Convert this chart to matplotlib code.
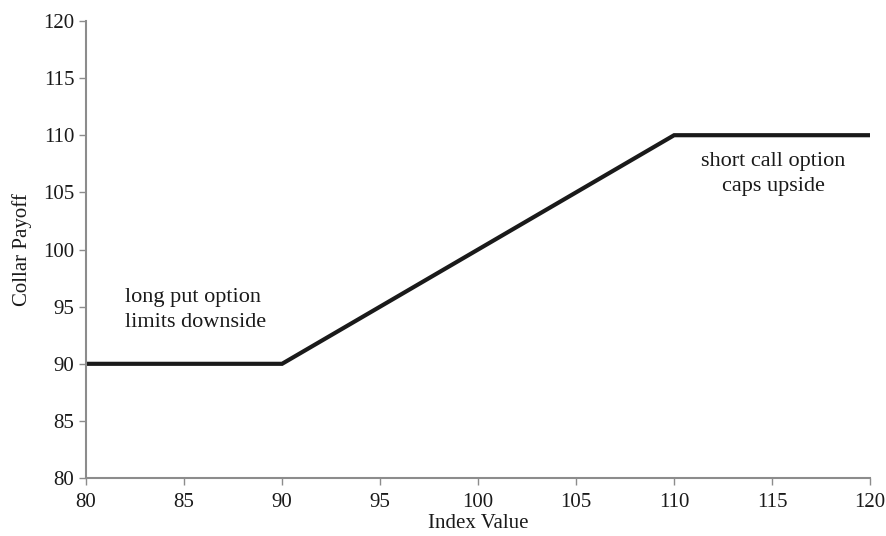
import numpy as np
import matplotlib.pyplot as plt

plt.rcParams['font.family'] = ['Liberation Serif', 'DejaVu Serif']

# payoff curve breakpoints
index_value = [80, 90, 110, 120]
collar_payoff = [90, 90, 110, 110]

x_ticks = np.arange(80, 121, 5)
y_ticks = np.arange(80, 121, 5)

fig = plt.figure(figsize=(8.87, 5.36), dpi=100)
ax = fig.add_axes([0.097, 0.108, 0.884, 0.853])

ax.plot(index_value, collar_payoff, color='#1a1a1a', linewidth=3, solid_joinstyle='miter')

ax.set_xlim(80, 120)
ax.set_ylim(80, 120)
ax.set_xticks(x_ticks)
ax.set_yticks(y_ticks)

for s in ['top', 'right']:
    ax.spines[s].set_visible(False)
for s in ['left', 'bottom']:
    ax.spines[s].set_color('#8c8c8c')
    ax.spines[s].set_linewidth(1.5)
ax.tick_params(colors='#8c8c8c', labelcolor='#1a1a1a', labelsize=15, length=5, width=1)
ax.tick_params(axis='x', pad=6)

ax.set_xlabel('Index Value', fontsize=15, color='#1a1a1a', labelpad=1)
ax.set_ylabel('Collar Payoff', fontsize=15, color='#1a1a1a', labelpad=8)

ax.text(82, 94.7, 'long put option\nlimits downside', fontsize=16, color='#1a1a1a',
        ha='left', va='center', linespacing=1.42)
ax.text(115.05, 106.6, 'short call option\ncaps upside', fontsize=16, color='#1a1a1a',
        ha='center', va='center', linespacing=1.42)

fig.savefig('out.png', dpi=100)
